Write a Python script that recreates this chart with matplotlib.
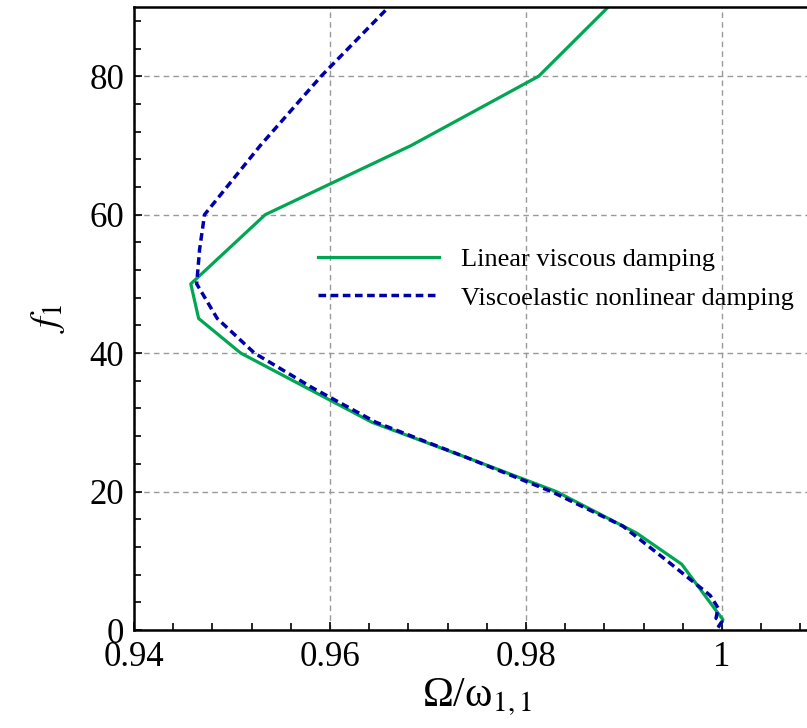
import numpy as np
import matplotlib.pyplot as plt
from matplotlib.ticker import MultipleLocator, FuncFormatter

plt.rcParams['font.family'] = ['Liberation Serif', 'DejaVu Serif']
plt.rcParams['mathtext.fontset'] = 'stix'

# frequency ratio Omega/omega_11 against forcing amplitude f1
f_linear = [0.5, 1.5, 3, 9.5, 14, 20, 25, 30, 35, 40, 45, 50, 60, 70, 80, 90]
w_linear = [0.9997, 1.0001, 0.9993, 0.9959, 0.9913, 0.9831, 0.9738, 0.9643,
            0.9576, 0.9509, 0.9466, 0.9458, 0.9534, 0.9683, 0.9813, 0.9884]

f_visco = [0.4, 1.2, 1.7, 3.2, 5, 10, 15, 20, 25, 30, 35, 40, 45, 50, 55, 60, 70, 80, 90]
w_visco = [0.9996, 1.0000, 0.9994, 0.9996, 0.9988, 0.9944, 0.9899, 0.9826, 0.9738,
           0.9647, 0.9582, 0.9523, 0.9485, 0.9464, 0.9467, 0.9472, 0.9529, 0.9591, 0.9660]

fig = plt.figure(figsize=(8.07, 7.28), dpi=100)
ax = fig.add_axes([0.166, 0.1346, 0.850, 0.8558])

ax.plot(w_linear, f_linear, color='#00a651', lw=2.3, label='Linear viscous damping')
ax.plot(w_visco, f_visco, color='#0000aa', lw=2.5, linestyle=(0, (2.2, 1.3)),
        label='Viscoelastic nonlinear damping')

ax.set_xlim(0.94, 1.01)
ax.set_ylim(0, 90)
ax.xaxis.set_major_locator(MultipleLocator(0.02))
ax.xaxis.set_minor_locator(MultipleLocator(0.004))
ax.yaxis.set_major_locator(MultipleLocator(20))
ax.yaxis.set_minor_locator(MultipleLocator(4))
ax.xaxis.set_major_formatter(FuncFormatter(lambda v, p: '%g' % round(v, 4)))

ax.tick_params(which='both', direction='in', top=False, right=False,
               labelsize=25, width=1.2)
ax.tick_params(which='major', length=6)
ax.tick_params(which='minor', length=5)
ax.tick_params(axis='x', pad=8)
ax.tick_params(axis='y', pad=7)

for s in ax.spines.values():
    s.set_linewidth(1.8)

ax.grid(True, which='major', color='#999999', linestyle=(0, (4, 3)), linewidth=1)

ax.set_xlabel('Ω/ω$_{1,1}$', fontsize=30, labelpad=2)
ax.set_ylabel('$f_1$', fontsize=28, labelpad=16)

ax.legend(loc='upper left', bbox_to_anchor=(0.268, 0.614), frameon=False,
          fontsize=19, handlelength=4.6, handletextpad=0.83, labelspacing=0.58,
          borderpad=0, borderaxespad=0)

plt.savefig('out.png', dpi=100)
plt.close()
